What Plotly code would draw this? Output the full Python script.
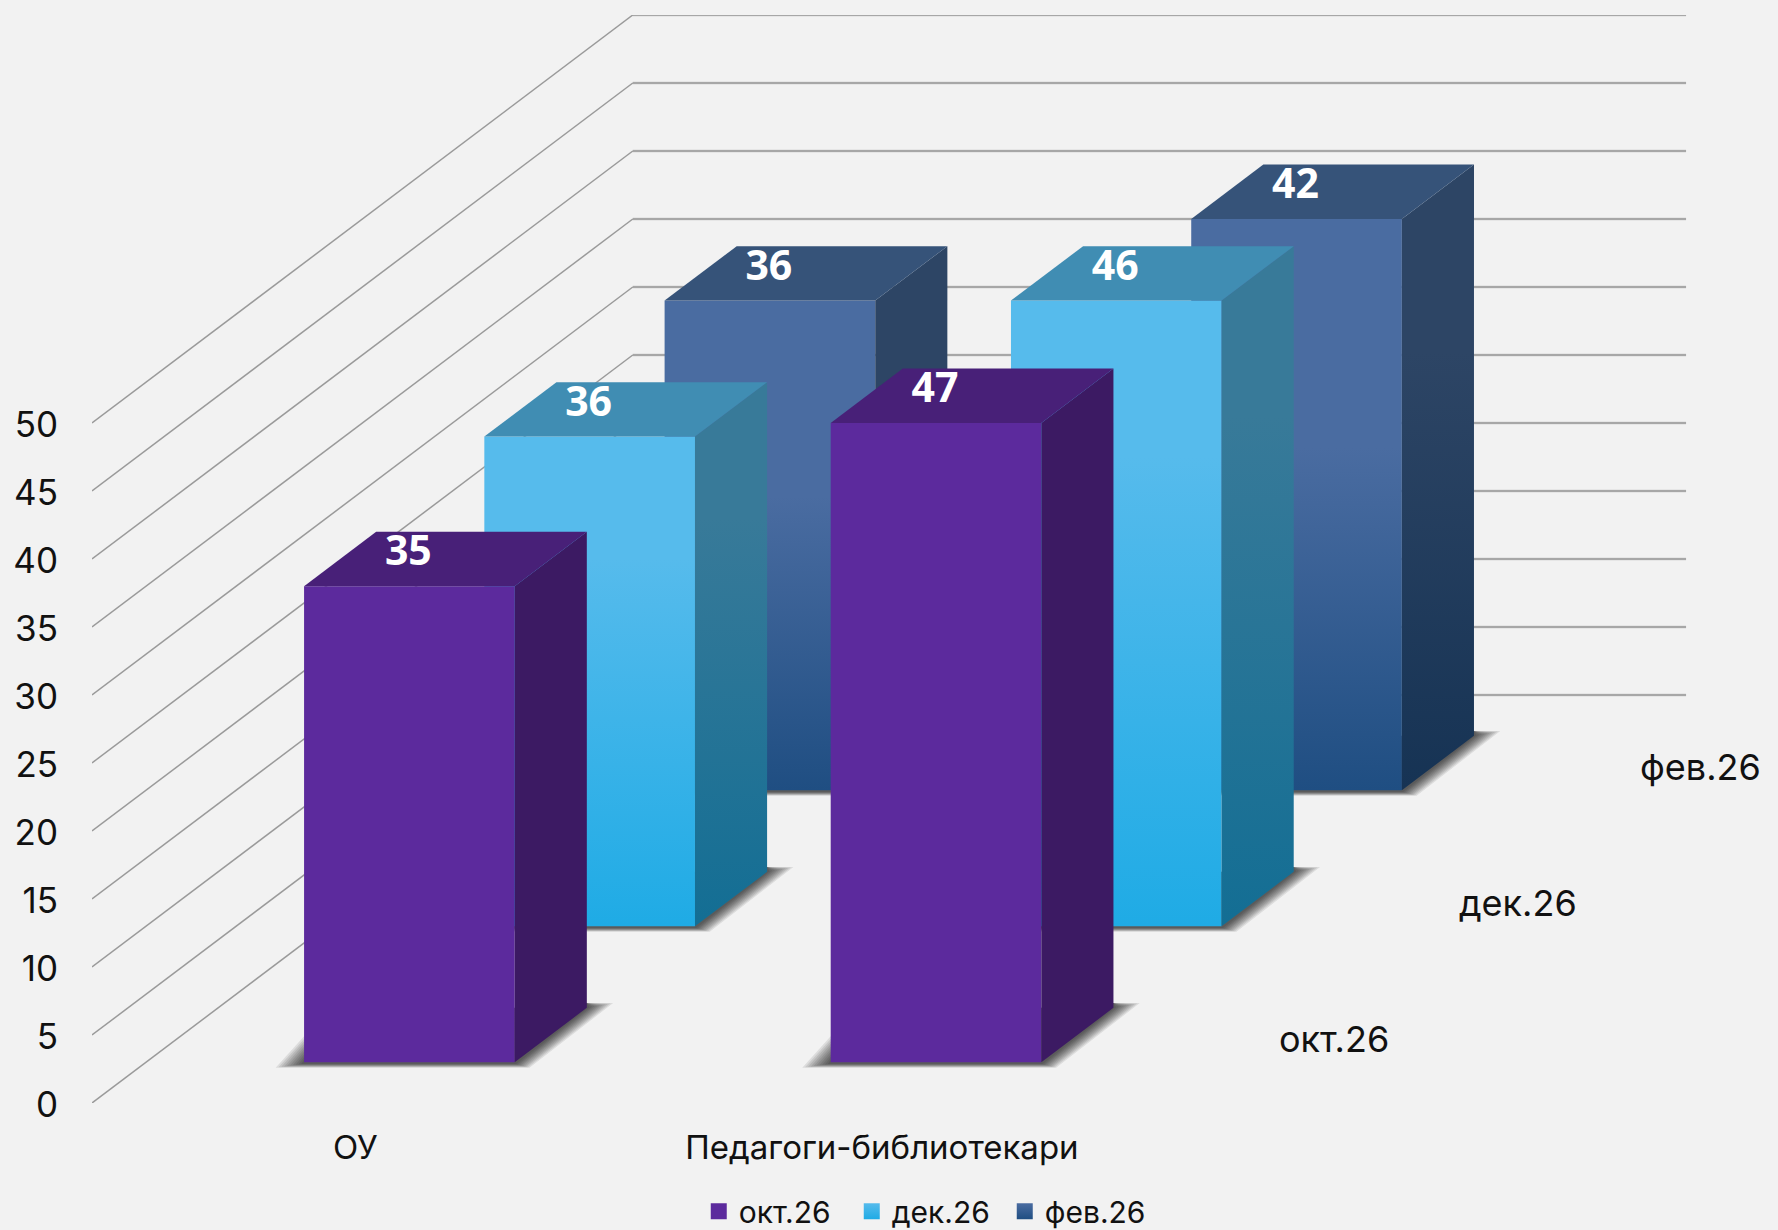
import plotly.graph_objects as go

# ---- data ----
CATEGORIES = ["ОУ", "Педагоги-библиотекари"]
SERIES = ["окт.26", "дек.26", "фев.26"]
OCT = [35, 47]
DEC = [36, 46]
FEB = [36, 42]
TICKS = [0, 5, 10, 15, 20, 25, 30, 35, 40, 45, 50]

VALUES = [OCT, DEC, FEB]

# ---- styles ----
BG = "#F2F2F2"
FONT = "Inter"
TXT = "#111111"
FRONT = [
    [[0, "#5C2A9D"], [1, "#5C2A9D"]],
    [[0, "#1FABE5"], [0.75, "#56BBEC"], [1, "#56BBEC"]],
    [[0, "#1F4E82"], [0.6, "#4A6CA1"], [1, "#4A6CA1"]],
]
TOP = ["#482078", "#408DB3", "#365379"]
SIDE = [
    [[0, "#3C1A63"], [1, "#3C1A63"]],
    [[0, "#136E94"], [0.75, "#387A99"], [1, "#387A99"]],
    [[0, "#163354"], [0.7, "#2D4565"], [1, "#2D4565"]],
]
LEG_TOP = ["#5C2A9D", "#56BBEC", "#4A6CA1"]
LEG_BOT = ["#5C2A9D", "#1FABE5", "#1F4E82"]

# ---- oblique projection: (category pos, depth, value) -> axis coordinates ----
DEPTH_X = 0.3423   # category units per depth unit
DEPTH_Y = 10.0     # value units per depth unit
N_ROWS = 3
N_CATS = 2
BAR_W = 0.40
BAR_D = 0.40


def proj(c, d, v):
    return c + d * DEPTH_X, v + d * DEPTH_Y


def poly(points, **kw):
    xs, ys = zip(*points)
    return go.Scatter(x=list(xs) + [xs[0]], y=list(ys) + [ys[0]], mode="none",
                      fill="toself", hoverinfo="skip", showlegend=False, **kw)


fig = go.Figure()

# walls
wx, wy = [], []
bx, by = [], []
for t in TICKS:
    a = proj(0, 0, t)
    b = proj(0, N_ROWS, t)
    c = proj(N_CATS, N_ROWS, t)
    wx += [a[0], b[0], None]
    wy += [a[1], b[1], None]
    bx += [b[0], c[0], None]
    by += [b[1], c[1], None]
fig.add_trace(go.Scatter(x=bx, y=by, mode="lines", line=dict(color="#DADADA", width=3.2),
                         hoverinfo="skip", showlegend=False, cliponaxis=False))
fig.add_trace(go.Scatter(x=wx, y=wy, mode="lines", line=dict(color="#9A9A9A", width=1.5),
                         hoverinfo="skip", showlegend=False, cliponaxis=False))
fig.add_trace(go.Scatter(x=bx, y=by, mode="lines", line=dict(color="#969696", width=1.7),
                         hoverinfo="skip", showlegend=False, cliponaxis=False))

# shadow layers: scale of the blur, from the outside in
SHADOW_STEPS = [1.0, 0.9, 0.8, 0.7, 0.6, 0.5, 0.4, 0.3, 0.2, 0.1]

# bars: back row first
for r in reversed(range(N_ROWS)):
    d0 = r + 0.5 - BAR_D / 2
    d1 = d0 + BAR_D
    for c_i, val in enumerate(VALUES[r]):
        c0 = c_i + 0.5 - BAR_W / 2
        c1 = c0 + BAR_W
        fl, fr = proj(c0, d0, 0), proj(c1, d0, 0)
        br = proj(c1, d1, 0)
        ftl, ftr = proj(c0, d0, val), proj(c1, d0, val)
        btl, btr = proj(c0, d1, val), proj(c1, d1, val)
        # soft shadow on the floor, built from stacked translucent polygons
        for s in SHADOW_STEPS:
            fig.add_trace(poly([
                (fl[0], fl[1] + 1.9 * s),
                (fl[0] - 0.054 * s, fl[1] - 0.1 - 0.3 * s),
                (fr[0] + 0.028 * s, fr[1] - 0.1 - 0.3 * s),
                (br[0] + 0.05 * s, br[1] + 0.35 * s),
                (br[0], br[1] + 0.35),
                (fr[0], br[1]),
            ], fillcolor="rgba(0,0,0,0.09)"))
        fig.add_trace(poly([fl, fr, ftr, ftl],
                           fillcolor=LEG_TOP[r],
                           fillgradient=dict(type="vertical", colorscale=FRONT[r])))
        fig.add_trace(poly([fr, br, btr, ftr],
                           fillcolor=LEG_BOT[r],
                           fillgradient=dict(type="vertical", colorscale=SIDE[r])))
        fig.add_trace(poly([ftl, ftr, btr, btl], fillcolor=TOP[r]))

# value labels
LABEL_LIFT = 2.3
lx, ly, lt = [], [], []
for r in range(N_ROWS):
    for c_i, val in enumerate(VALUES[r]):
        x, y = proj(c_i + 0.5 - 0.002, r + 0.5 - BAR_D / 2, val)
        lx.append(x)
        ly.append(y + LABEL_LIFT)
        lt.append(str(val))
fig.add_trace(go.Scatter(x=lx, y=ly, text=lt, mode="text", textposition="middle center",
                         textfont=dict(family="Open Sans", size=41, color="white", weight="bold"),
                         hoverinfo="skip", showlegend=False, cliponaxis=False))

# legend entries
for r, name in enumerate(SERIES):
    fig.add_trace(go.Scatter(x=[None], y=[None], mode="markers", name=name,
                             marker=dict(symbol="square", size=17, color=LEG_TOP[r],
                                         gradient=dict(type="vertical", color=LEG_BOT[r]))))

# depth-axis labels
annotations = []
for r, name in enumerate(SERIES):
    x, y = proj(N_CATS, r + 0.5, 0)
    annotations.append(dict(x=x + 0.079, y=y - 0.3, text=name, showarrow=False, xanchor="left",
                            yanchor="middle", font=dict(family=FONT, size=36, color=TXT)))

fig.update_layout(
    width=1778, height=1230,
    paper_bgcolor=BG, plot_bgcolor=BG,
    margin=dict(l=92, r=0, t=15, b=126.5, autoexpand=False),
    font=dict(family=FONT, color=TXT),
    annotations=annotations,
    xaxis=dict(range=[0, 3.2015], tickmode="array", tickvals=[i + 0.5 for i in range(N_CATS)],
               ticktext=CATEGORIES, tickfont=dict(size=33, family=FONT, color=TXT),
               ticks="outside", ticklen=15, tickcolor=BG, showgrid=False, zeroline=False,
               showline=False, automargin=False),
    yaxis=dict(range=[0, 80], tickmode="array", tickvals=TICKS,
               tickfont=dict(size=35, family=FONT, color=TXT), ticklabelshift=2,
               ticks="outside", ticklen=26, tickcolor=BG, showgrid=False, zeroline=False,
               showline=False, automargin=False),
    legend=dict(orientation="h", x=0.496, xanchor="center", y=-0.0995, yanchor="middle",
                entrywidth=108, entrywidthmode="pixels",
                font=dict(size=30, family=FONT, color=TXT), bgcolor="rgba(0,0,0,0)",
                itemclick=False, itemdoubleclick=False),
    showlegend=True,
)

fig.write_html("out.html", config={"displayModeBar": False},
               post_script="document.body.style.margin='0';document.documentElement.style.overflow='hidden';")
